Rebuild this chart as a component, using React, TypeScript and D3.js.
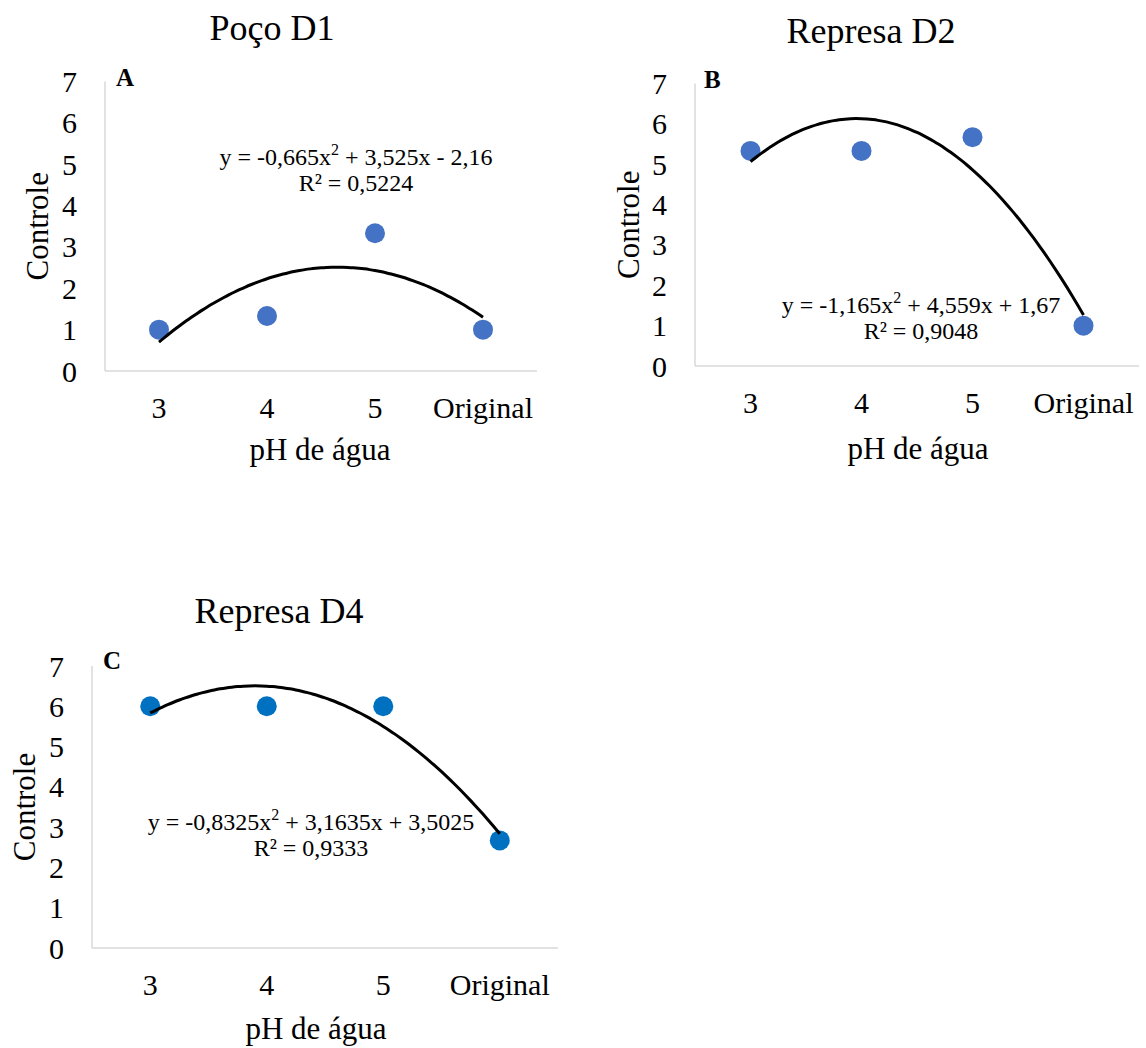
import React from "react";
import * as d3 from "d3";

const categories = ["3", "4", "5", "Original"];
const yTicks = [0, 1, 2, 3, 4, 5, 6, 7];

const titles = ["Poço D1", "Represa D2", "Represa D4"];
const panelLetters = ["A", "B", "C"];

const valuesA = [1, 1.33, 3.33, 1];
const valuesB = [5.33, 5.33, 5.67, 1];
const valuesC = [6, 6, 6, 2.67];

const coefA = [-0.665, 3.525, -2.16];
const coefB = [-1.165, 4.559, 1.67];
const coefC = [-0.8325, 3.1635, 3.5025];

const eqA = ["y = -0,665x", "2", " + 3,525x - 2,16"];
const eqB = ["y = -1,165x", "2", " + 4,559x + 1,67"];
const eqC = ["y = -0,8325x", "2", " + 3,1635x + 3,5025"];
const r2Labels = ["R² = 0,5224", "R² = 0,9048", "R² = 0,9333"];

const xTitle = "pH de água";
const yTitle = "Controle";

const layouts = [
  { left: 105, right: 537, top: 81.5, bottom: 371, tx: 272, ty: 28, lx: 116, ly: 86, ex: 356, ey: 157, yl: 37, xlx: 320, xly: 449, color: "#4472C4" },
  { left: 695, right: 1139, top: 83.5, bottom: 366, tx: 871, ty: 31, lx: 704, ly: 88, ex: 921, ey: 305, yl: 628, xlx: 918, xly: 448, color: "#4472C4" },
  { left: 92, right: 558, top: 666, bottom: 948, tx: 279, ty: 611, lx: 103, ly: 669, ex: 311, ey: 822, yl: 24, xlx: 316, xly: 1028, color: "#0070C0" },
];

const panelValues = [valuesA, valuesB, valuesC];
const panelCoefs = [coefA, coefB, coefC];
const panelEqs = [eqA, eqB, eqC];

const FONT = "'Times New Roman', 'Liberation Serif', serif";

function Panel({ i }: { i: number }) {
  const L = layouts[i];
  const values = panelValues[i];
  const coef = panelCoefs[i];
  const eq = panelEqs[i];
  const x = d3.scaleBand<string>().domain(categories).range([L.left, L.right]).padding(0);
  const y = d3.scaleLinear().domain([0, 7]).range([L.bottom, L.top]);
  const cx = (c: string) => (x(c) as number) + x.bandwidth() / 2;
  const xi = d3.scaleLinear().domain([1, 4]).range([cx(categories[0]), cx(categories[3])]);
  const samples = d3.range(1, 4.0001, 0.05);
  const line = d3
    .line<number>()
    .x((t) => xi(t))
    .y((t) => y(coef[0] * t * t + coef[1] * t + coef[2]))
    .curve(d3.curveMonotoneX);
  const yMid = (L.top + L.bottom) / 2;
  return (
    <g fontFamily={FONT} fill="#000">
      <text x={L.tx} y={L.ty} fontSize={36} textAnchor="middle" dominantBaseline="central">
        {titles[i]}
      </text>
      <line x1={L.left} x2={L.left} y1={L.top} y2={L.bottom} stroke="#d9d9d9" strokeWidth={1.5} />
      <line x1={L.left} x2={L.right} y1={L.bottom} y2={L.bottom} stroke="#d9d9d9" strokeWidth={1.5} />
      {yTicks.map((t) => (
        <text key={t} x={L.left - 28} y={y(t)} fontSize={30} textAnchor="end" dominantBaseline="central">
          {t}
        </text>
      ))}
      {categories.map((c) => (
        <text key={c} x={cx(c)} y={L.bottom + 36} fontSize={30} textAnchor="middle" dominantBaseline="central">
          {c}
        </text>
      ))}
      <text x={L.lx} y={L.ly} fontSize={25} fontWeight={600}>
        {panelLetters[i]}
      </text>
      <text x={L.xlx} y={L.xly} fontSize={31} textAnchor="middle" dominantBaseline="central">
        {xTitle}
      </text>
      <text
        transform={`translate(${L.yl},${yMid}) rotate(-90)`}
        fontSize={31}
        textAnchor="middle"
        dominantBaseline="central"
      >
        {yTitle}
      </text>
      {values.map((v, k) => (
        <circle key={k} cx={cx(categories[k])} cy={y(v)} r={10} fill={L.color} />
      ))}
      <path d={line(samples) || ""} fill="none" stroke="#000" strokeWidth={3} />
      <text x={L.ex} y={L.ey} fontSize={24} textAnchor="middle" dominantBaseline="central">
        <tspan>{eq[0]}</tspan>
        <tspan fontSize={16} dy={-8}>{eq[1]}</tspan>
        <tspan dy={8}>{eq[2]}</tspan>
      </text>
      <text x={L.ex} y={L.ey + 26} fontSize={24} textAnchor="middle" dominantBaseline="central">
        {r2Labels[i]}
      </text>
    </g>
  );
}

export default function App() {
  return (
    <svg
      width={1146}
      height={1048}
      style={{ position: "absolute", left: 0, top: 0, background: "#fff" }}
    >
      <rect width={1146} height={1048} fill="#fff" />
      {[0, 1, 2].map((i) => (
        <Panel key={i} i={i} />
      ))}
    </svg>
  );
}
